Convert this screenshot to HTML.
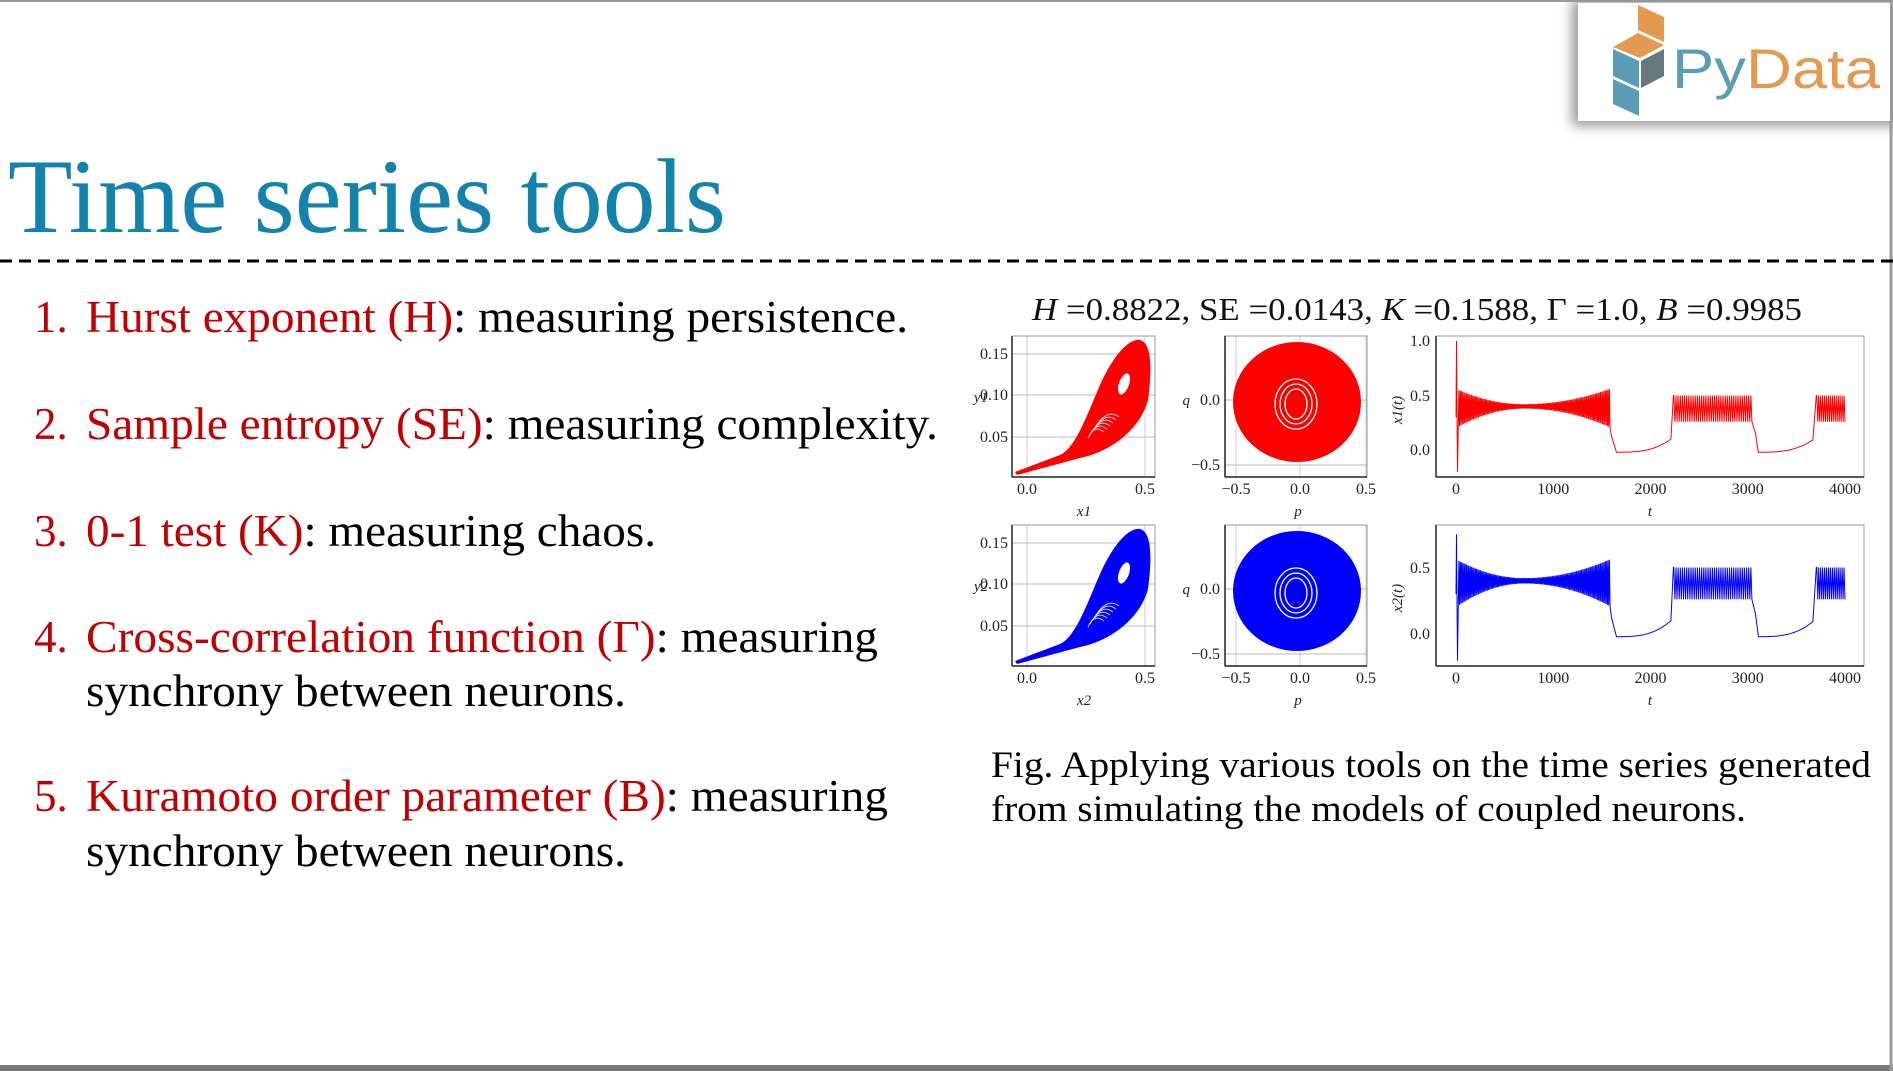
<!DOCTYPE html>
<html><head><meta charset="utf-8"><style>
html,body{margin:0;padding:0;background:#fff;}
svg{display:block;}
text{font-family:"Liberation Serif",serif;}
</style></head><body>
<svg id="s" width="1893" height="1071" viewBox="0 0 1893 1071" xmlns="http://www.w3.org/2000/svg">
<defs>
<filter id="sh" x="-20%" y="-20%" width="140%" height="160%"><feGaussianBlur stdDeviation="6"/></filter>
</defs>
<rect x="0" y="0" width="1893" height="1071" fill="#fff"/>
<line x1="0" y1="1" x2="1893" y2="1" stroke="#999" stroke-width="2"/>
<rect x="0" y="1065" width="1893" height="6" fill="#777"/>
<line x1="1891" y1="0" x2="1891" y2="1071" stroke="#999" stroke-width="3"/>

<!-- logo -->
<rect x="1572" y="0" width="330" height="126" fill="#999" filter="url(#sh)"/>
<rect x="1578" y="3" width="312" height="118" fill="#fff"/>
<polygon points="1638,5 1664,17 1664,42 1638,30" fill="#e39a50"/>
<polygon points="1613,47 1638,33 1664,45 1640,58" fill="#e39a50"/>
<polygon points="1613,49 1639,61 1639,88 1613,76" fill="#5b9cb5"/>
<polygon points="1641,61 1664,49 1664,76 1641,88" fill="#66787e"/>
<polygon points="1613,79 1639,91 1639,116 1613,104" fill="#5b9cb5"/>
<text x="1672" y="88" style="font-family:'Liberation Sans',sans-serif" font-size="56" textLength="208" lengthAdjust="spacingAndGlyphs"><tspan fill="#5b9cb5">Py</tspan><tspan fill="#e39a50">Data</tspan></text>

<!-- title -->
<text x="8" y="232" font-size="106" fill="#1383ad" textLength="718" lengthAdjust="spacingAndGlyphs">Time series tools</text>
<line x1="0" y1="261" x2="1893" y2="261" stroke="#000" stroke-width="3" stroke-dasharray="12,7"/>

<!-- list -->
<g font-size="45">
<text x="34" y="332" fill="#c00000">1.</text>
<text x="86" y="332" textLength="822" lengthAdjust="spacingAndGlyphs"><tspan fill="#c00000">Hurst exponent (H)</tspan><tspan fill="#000">: measuring persistence.</tspan></text>
<text x="34" y="439" fill="#c00000">2.</text>
<text x="86" y="439" textLength="852" lengthAdjust="spacingAndGlyphs"><tspan fill="#c00000">Sample entropy (SE)</tspan><tspan fill="#000">: measuring complexity.</tspan></text>
<text x="34" y="546" fill="#c00000">3.</text>
<text x="86" y="546" textLength="570" lengthAdjust="spacingAndGlyphs"><tspan fill="#c00000">0-1 test (K)</tspan><tspan fill="#000">: measuring chaos.</tspan></text>
<text x="34" y="652" fill="#c00000">4.</text>
<text x="86" y="652" textLength="792" lengthAdjust="spacingAndGlyphs"><tspan fill="#c00000">Cross-correlation function (Γ)</tspan><tspan fill="#000">: measuring</tspan></text>
<text x="86" y="706" fill="#000" textLength="540" lengthAdjust="spacingAndGlyphs">synchrony between neurons.</text>
<text x="34" y="811" fill="#c00000">5.</text>
<text x="86" y="811" textLength="802" lengthAdjust="spacingAndGlyphs"><tspan fill="#c00000">Kuramoto order parameter (B)</tspan><tspan fill="#000">: measuring</tspan></text>
<text x="86" y="866" fill="#000" textLength="540" lengthAdjust="spacingAndGlyphs">synchrony between neurons.</text>
</g>

<!-- figure title -->
<text x="1032" y="320" font-size="32" fill="#111" textLength="770" lengthAdjust="spacingAndGlyphs"><tspan font-style="italic">H</tspan> =0.8822, SE =0.0143, <tspan font-style="italic">K</tspan> =0.1588, Γ =1.0, <tspan font-style="italic">B</tspan> =0.9985</text>

<g id="plots"></g>

<!-- caption -->
<text x="991" y="777" font-size="37" fill="#000" textLength="880" lengthAdjust="spacingAndGlyphs">Fig. Applying various tools on the time series generated</text>
<text x="991" y="821" font-size="37" fill="#000" textLength="755" lengthAdjust="spacingAndGlyphs">from simulating the models of coupled neurons.</text>
</svg>
<script>
(function(){
var NS="http://www.w3.org/2000/svg",g=document.getElementById("plots");
function el(n,a,t){var e=document.createElementNS(NS,n);for(var k in a)e.setAttribute(k,a[k]);if(t!==undefined)e.textContent=t;g.appendChild(e);return e;}
function txt(x,y,s,anchor,fs){el("text",{x:x,y:y,"font-size":fs||16,"text-anchor":anchor||"middle",fill:"#222"},s);}
function rows(off,color,idx){
  var y0=336+off,y1=477+off;
  // P1
  el("line",{x1:1027,y1:y0,x2:1027,y2:y1,stroke:"#ccc"});el("line",{x1:1145,y1:y0,x2:1145,y2:y1,stroke:"#ccc"});
  [354,395,437].forEach(function(y){el("line",{x1:1012,y1:y+off,x2:1155,y2:y+off,stroke:"#bbb"});});
  el("path",{d:"M1015,"+(472+off)+" L1060,"+(455+off)+" C1075,"+(448+off)+" 1085,"+(420+off)+" 1100,"+(385+off)+" C1112,"+(358+off)+" 1128,"+(338+off)+" 1140,"+(340+off)+" C1152,"+(343+off)+" 1152,"+(370+off)+" 1148,"+(400+off)+" C1140,"+(430+off)+" 1110,"+(452+off)+" 1080,"+(458+off)+" L1017,"+(475+off)+" Z",fill:color});
  el("ellipse",{cx:1124,cy:384+off,rx:5,ry:11,fill:"#fff",transform:"rotate(20 1124 "+(384+off)+")"});
  for(var i=0;i<6;i++)el("path",{d:"M"+(1088+i*2)+","+(438+off-i*3)+" q"+(6+i)+",-14 "+(16+i)+",-6",stroke:"#fff","stroke-width":1,fill:"none",opacity:0.8});
  el("rect",{x:1012,y:y0,width:143,height:141,fill:"none",stroke:"#999"});
  el("line",{x1:1012,y1:y1,x2:1155,y2:y1,stroke:"#222","stroke-width":1.5});
  el("line",{x1:1012,y1:y0,x2:1012,y2:y1,stroke:"#222","stroke-width":1.5});
  txt(1008,359+off,"0.15","end");txt(1008,400+off,"0.10","end");txt(1008,442+off,"0.05","end");
  el("text",{x:988,y:402+off,"font-size":15,"text-anchor":"end","font-style":"italic",fill:"#222"},"y"+idx);
  txt(1027,494+off,"0.0");txt(1145,494+off,"0.5");
  el("text",{x:1084,y:516+off,"font-size":15,"text-anchor":"middle","font-style":"italic",fill:"#222"},"x"+idx);
  // P2
  el("line",{x1:1236,y1:y0,x2:1236,y2:y1,stroke:"#ccc"});el("line",{x1:1300,y1:y0,x2:1300,y2:y1,stroke:"#ccc"});el("line",{x1:1366,y1:y0,x2:1366,y2:y1,stroke:"#ccc"});
  el("line",{x1:1225,y1:400+off,x2:1367,y2:400+off,stroke:"#bbb"});el("line",{x1:1225,y1:465+off,x2:1367,y2:465+off,stroke:"#bbb"});
  el("ellipse",{cx:1297,cy:402+off,rx:64,ry:60,fill:color});
  [11,16,21].forEach(function(r){el("ellipse",{cx:1296,cy:404+off,rx:r,ry:r+4,fill:"none",stroke:"#fff","stroke-width":1.3});});
  el("rect",{x:1225,y:y0,width:142,height:141,fill:"none",stroke:"#999"});
  el("line",{x1:1225,y1:y1,x2:1367,y2:y1,stroke:"#222","stroke-width":1.5});
  el("line",{x1:1225,y1:y0,x2:1225,y2:y1,stroke:"#222","stroke-width":1.5});
  txt(1220,405+off,"0.0","end");txt(1220,470+off,"−0.5","end");
  el("text",{x:1190,y:405+off,"font-size":15,"text-anchor":"end","font-style":"italic",fill:"#222"},"q");
  txt(1236,494+off,"−0.5");txt(1300,494+off,"0.0");txt(1366,494+off,"0.5");
  el("text",{x:1298,y:516+off,"font-size":15,"text-anchor":"middle","font-style":"italic",fill:"#222"},"p");
  // P3
  el("rect",{x:1436,y:y0,width:428,height:141,fill:"none",stroke:"#999"});
  el("line",{x1:1436,y1:y1,x2:1864,y2:y1,stroke:"#222","stroke-width":1.5});
  el("line",{x1:1436,y1:y0,x2:1436,y2:y1,stroke:"#222","stroke-width":1.5});
  [0,1000,2000,3000,4000].forEach(function(t){txt(1456+t*0.09725,494+off,""+t);});
  el("text",{x:1650,y:516+off,"font-size":15,"text-anchor":"middle","font-style":"italic",fill:"#222"},"t");
  var Z,K;
  if(idx==1){Z=450;K=109;txt(1430,346,"1.0","end");txt(1430,401,"0.5","end");txt(1430,455,"0.0","end");}
  else{Z=634;K=133;txt(1430,573,"0.5","end");txt(1430,639,"0.0","end");}
  el("text",{x:1402,y:(idx==1?410:598),"font-size":15,"text-anchor":"middle","font-style":"italic",fill:"#222",transform:"rotate(-90 1402 "+(idx==1?410:598)+")"},"x"+idx+"(t)");
  var X=function(t){return (1456+t*0.09725).toFixed(1);},Y=function(v){return (Z-v*K).toFixed(1);};
  var d="M"+X(0)+","+Y(0.3)+" L"+X(5)+","+Y(idx==1?1.0:0.75)+" L"+X(15)+","+Y(-0.2)+" L"+X(30)+","+Y(0.55);
  var t,a,f;
  for(t=30;t<1580;t+=13){
    f=t<700?Math.pow((700-t)/670,2):Math.pow((t-700)/850,2);
    a=0.02+0.13*f;
    d+=" L"+X(t)+","+Y(0.4+a)+" L"+X(t+6.5)+","+Y(0.4-a-0.03*f);
  }
  function ramp(t0,t1){for(t=t0;t<=t1;t+=20){var u=(t-t0)/(t1-t0);d+=" L"+X(t)+","+Y(-0.02+0.12*Math.pow(u,3));}}
  d+=" L"+X(1600)+","+Y(0.12);
  ramp(1650,2210);
  d+=" L"+X(2235)+","+Y(0.5);
  for(t=2240;t<3050;t+=22){d+=" L"+X(t)+","+Y(0.5)+" L"+X(t+11)+","+Y(0.26);}
  d+=" L"+X(3080)+","+Y(0.15);
  ramp(3110,3680);
  d+=" L"+X(3705)+","+Y(0.5);
  for(t=3710;t<4000;t+=20){d+=" L"+X(t)+","+Y(0.5)+" L"+X(t+10)+","+Y(0.26);}
  el("path",{d:d,fill:"none",stroke:color,"stroke-width":1});
}
rows(0,"#ff0000",1);
rows(189,"#0000ff",2);
})();
</script>
</body></html>
